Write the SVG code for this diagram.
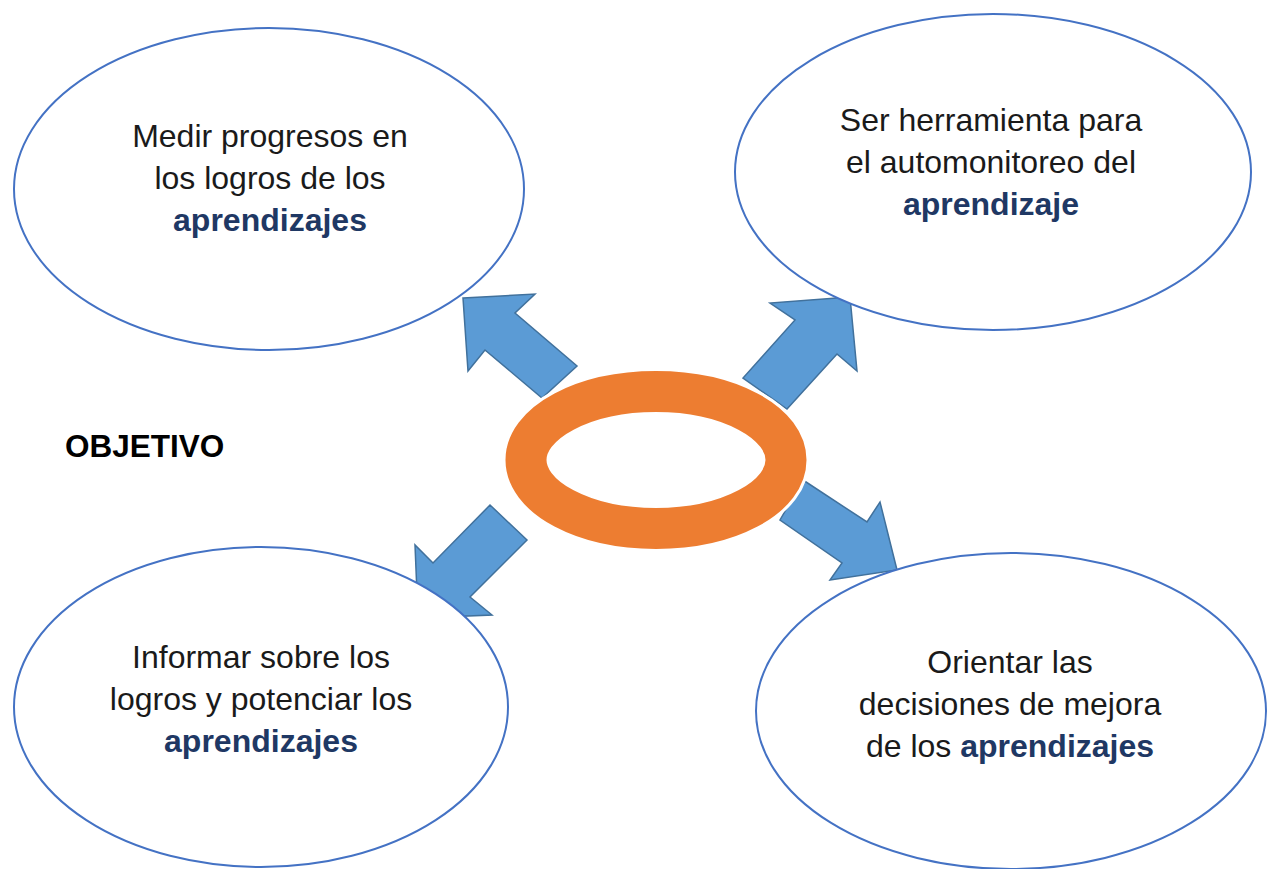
<svg xmlns="http://www.w3.org/2000/svg" width="1271" height="869" viewBox="0 0 1271 869">
<style>
.bub{fill:#fff;stroke:#4472C4;stroke-width:2}
.arr{fill:#5B9BD5;stroke:#41719C;stroke-width:1.5;stroke-linejoin:miter}
.t{font-family:"Liberation Sans",Arial,sans-serif;font-size:32px;fill:#1a1a1a;text-anchor:middle}
.k{font-weight:bold;fill:#1F3864}
.obj{font-family:"Liberation Sans",Arial,sans-serif;font-size:31.5px;font-weight:bold;fill:#000}
</style>
<rect width="1271" height="869" fill="#fff"/>
<g id="connectors">
<polygon class="arr" points="463,298 535,294 515,313 577,366 542,398 485,350 468,371"/>
<polygon class="arr" points="850,297 770,303 795,320 743,378 787,409 837,354 857,371"/>
<polygon class="arr" points="490,505 527,540 470,597 492,615 418,618 415,545 433,563"/>
<polygon class="arr" points="803,480 867,522 880,502 897,570 830,580 842,563 780,520"/>
</g>
<g id="center">
<ellipse cx="656" cy="460" rx="130" ry="68.5" fill="none" stroke="#fff" stroke-width="47"/>
<ellipse cx="656" cy="460" rx="130" ry="68.5" fill="none" stroke="#ED7D31" stroke-width="41"/>
</g>
<g id="node-tl">
<ellipse class="bub" cx="269" cy="189" rx="255" ry="161"/>
<text class="t" x="270" y="147">Medir progresos en</text>
<text class="t" x="270" y="189">los logros de los</text>
<text class="t k" x="270" y="231">aprendizajes</text>
</g>
<g id="node-tr">
<ellipse class="bub" cx="993" cy="172" rx="258" ry="158"/>
<text class="t" x="991" y="131">Ser herramienta para</text>
<text class="t" x="991" y="173">el automonitoreo del</text>
<text class="t k" x="991" y="215">aprendizaje</text>
</g>
<g id="node-bl">
<ellipse class="bub" cx="261" cy="707" rx="247" ry="160"/>
<text class="t" x="261" y="668">Informar sobre los</text>
<text class="t" x="261" y="710">logros y potenciar los</text>
<text class="t k" x="261" y="752">aprendizajes</text>
</g>
<g id="node-br">
<ellipse class="bub" cx="1011" cy="711" rx="255" ry="158"/>
<text class="t" x="1010" y="673">Orientar las</text>
<text class="t" x="1010" y="715">decisiones de mejora</text>
<text class="t" x="1010" y="757">de los <tspan class="k">aprendizajes</tspan></text>
</g>
<g id="label">
<text class="obj" x="65" y="457">OBJETIVO</text>
</g>
</svg>
